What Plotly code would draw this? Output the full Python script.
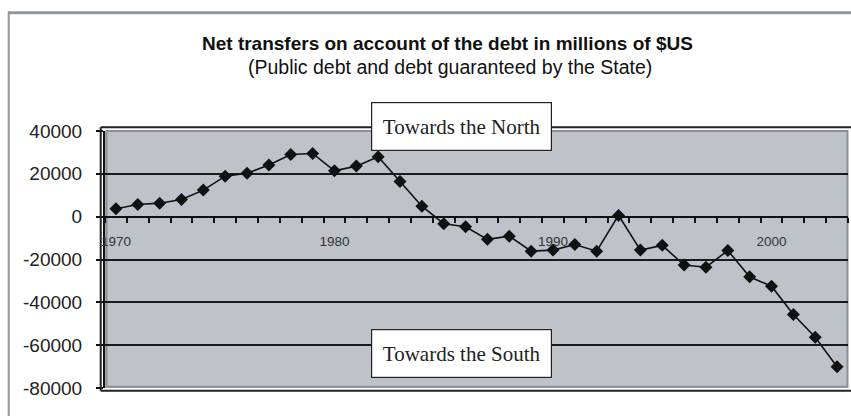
import plotly.graph_objects as go

years = list(range(1970, 2004))
net_transfers = [3700, 5700, 6300, 8000, 12400, 18900, 20300, 24100, 29000, 29500,
                 21400, 23600, 28000, 16400, 4900, -3300, -4700, -10600, -9100, -16100,
                 -15600, -13000, -16100, 600, -15600, -13400, -22600, -23600, -15800, -28100,
                 -32500, -45700, -56300, -70100]
x_tick_years = [1970, 1980, 1990, 2000]
x_tick_labels = ["1970", "1980", "1990", "2000"]
y_tick_values = [40000, 20000, 0, -20000, -40000, -60000, -80000]
y_tick_labels = ["40000", "20000", "0", "-20000", "-40000", "-60000", "-80000"]

title_text = "Net transfers on account of the debt in millions of $US"
subtitle_text = "(Public debt and debt guaranteed by the State)"
north_text = "Towards the North"
south_text = "Towards the South"

W, H = 851, 416
L, R, T, B = 105, 3, 131, 28
PW, PH = W - L - R, H - T - B


def px(x):
    return (x - L) / PW


def py(y):
    return (H - B - y) / PH


fig = go.Figure()
fig.add_trace(go.Scatter(
    x=years, y=net_transfers, mode="lines+markers",
    line=dict(color="#111111", width=1.6),
    marker=dict(symbol="diamond", size=10, color="#111111"),
    showlegend=False, hoverinfo="x+y"))

frame_gray = "#8e969e"
shapes = [
    # outer page frame
    dict(type="line", xref="paper", yref="paper", x0=px(8), x1=px(851), y0=py(12.8), y1=py(12.8),
         line=dict(color=frame_gray, width=3)),
    dict(type="line", xref="paper", yref="paper", x0=px(8.7), x1=px(8.7), y0=py(11.5), y1=py(416),
         line=dict(color=frame_gray, width=2)),
    # plot area gray border
    dict(type="rect", xref="paper", yref="paper", x0=px(106.5), x1=px(847.5), y0=py(386.8), y1=py(131),
         line=dict(color="#8a9098", width=2), layer="below"),
    # outer black frame
    dict(type="line", xref="paper", yref="paper", x0=px(100.7), x1=px(851), y0=py(127.3), y1=py(127.3),
         line=dict(color="#222222", width=2)),
    dict(type="line", xref="paper", yref="paper", x0=px(100.7), x1=px(851), y0=py(390.7), y1=py(390.7),
         line=dict(color="#222222", width=2)),
    dict(type="line", xref="paper", yref="paper", x0=px(100.7), x1=px(100.7), y0=py(127.3), y1=py(390.7),
         line=dict(color="#222222", width=2)),
]

annotations = [
    dict(text="<b>" + title_text + "</b>", xref="paper", yref="paper", x=px(447), y=py(43.5),
         xanchor="center", yanchor="middle", showarrow=False,
         font=dict(family="Liberation Sans, Arial", size=19, color="#111111")),
    dict(text=subtitle_text, xref="paper", yref="paper", x=px(450), y=py(66.5),
         xanchor="center", yanchor="middle", showarrow=False,
         font=dict(family="Liberation Sans, Arial", size=19.5, color="#111111")),
    dict(text=north_text, xref="paper", yref="paper", x=px(461.5), y=py(126.5),
         xanchor="center", yanchor="middle", showarrow=False,
         width=179, height=47, borderpad=0, borderwidth=1.2, bordercolor="#222222", bgcolor="white",
         font=dict(family="Liberation Serif, Times New Roman", size=21, color="#222222")),
    dict(text=south_text, xref="paper", yref="paper", x=px(461.5), y=py(353.7),
         xanchor="center", yanchor="middle", showarrow=False,
         width=179, height=47, borderpad=0, borderwidth=1.2, bordercolor="#222222", bgcolor="white",
         font=dict(family="Liberation Serif, Times New Roman", size=21, color="#222222")),
]

fig.update_layout(
    width=W, height=H,
    margin=dict(l=L, r=R, t=T, b=B, pad=0),
    paper_bgcolor="white", plot_bgcolor="#bfc2c9",
    shapes=shapes, annotations=annotations,
    xaxis=dict(
        range=[1969.5, 2003.5], anchor="free", position=2 / 3,
        showline=True, linecolor="#111111", linewidth=2,
        showgrid=False, zeroline=False,
        tickmode="array", tickvals=x_tick_years, ticktext=x_tick_labels,
        ticks="outside", ticklen=12, tickcolor="rgba(0,0,0,0)",
        tickfont=dict(family="Liberation Sans, Arial", size=13.5, color="#333333"),
        minor=dict(tick0=1969.5, dtick=1, ticks="outside", ticklen=5, tickwidth=2, tickcolor="#111111"),
        fixedrange=True,
    ),
    yaxis=dict(
        range=[-80000, 40000],
        tickmode="array", tickvals=y_tick_values, ticktext=y_tick_labels,
        showline=True, linecolor="#111111", linewidth=2,
        showgrid=True, gridcolor="#1a1a1a", gridwidth=1.6, zeroline=False,
        ticks="outside", ticklen=7, tickwidth=1.5, tickcolor="#111111",
        ticklabelstandoff=10,
        tickfont=dict(family="Liberation Sans, Arial", size=19, color="#222222"),
        fixedrange=True,
    ),
)

fig.write_html("out.html")
